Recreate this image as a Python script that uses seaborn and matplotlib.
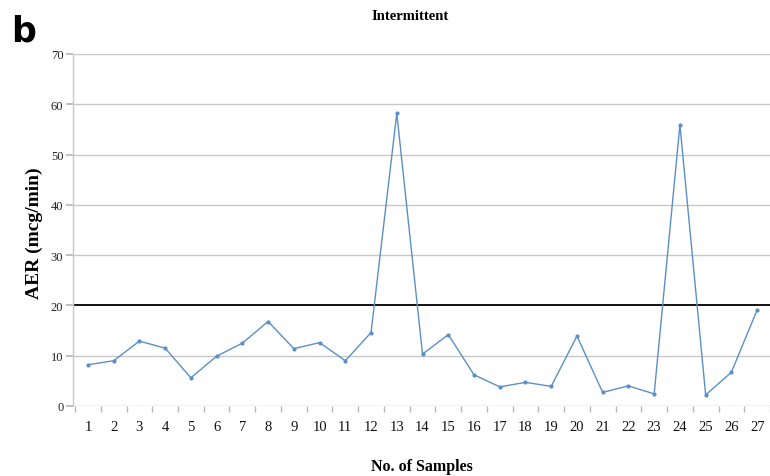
import matplotlib
matplotlib.use("Agg")
import matplotlib.pyplot as plt
import seaborn as sns
import numpy as np
import pandas as pd

# Albumin excretion rate per sample, intermittent group
samples = list(range(1, 28))
aer = [8.2, 9.0, 12.9, 11.5, 5.6, 9.9, 12.5, 16.8, 11.4, 12.6, 9.0, 14.6, 58.2,
       10.3, 14.2, 6.2, 3.8, 4.7, 3.9, 13.9, 2.7, 4.0, 2.4, 55.9, 2.2, 6.7, 19.1]
threshold = 20
y_ticks = [0, 10, 20, 30, 40, 50, 60, 70]

df = pd.DataFrame({"sample": samples, "aer": aer})

sns.set_theme(style="white")
plt.rcParams["font.family"] = ["Liberation Serif", "DejaVu Serif"]
plt.rcParams["text.color"] = "black"
plt.rcParams["axes.labelcolor"] = "black"

fig = plt.figure(figsize=(7.7, 4.77), dpi=100)
ax = fig.add_axes([0.0948, 0.1468, 0.9052, 0.7379])

for t in y_ticks:
    if t in (0, threshold):
        continue
    ax.axhline(t, color="#c8c8c8", lw=1.0, zorder=0)
ax.axhline(threshold, color="#111111", lw=1.4, zorder=1)
ax.axhline(0, color="#b8b8b8", lw=1.0, zorder=1)

sns.lineplot(data=df, x="sample", y="aer", ax=ax, color="#5b8fc7", lw=1.0,
             marker="o", markersize=3, markeredgewidth=0, zorder=3)

ax.set_xlim(0.42, 27.47)
ax.set_ylim(0, 70)
ax.set_xticks(samples)
ax.set_xticklabels([str(s) for s in samples], fontsize=10.5)
ax.set_xticks(np.arange(0.5, 28, 1), minor=True)
ax.set_yticks(y_ticks)
ax.set_yticklabels([str(t) for t in y_ticks], fontsize=9)
ax.tick_params(axis="x", which="major", length=0, pad=10, colors="#111111")
ax.tick_params(axis="x", which="minor", length=4, color="#b8b8b8", width=1,
               bottom=True)
ax.tick_params(axis="y", which="major", length=5, left=True, pad=2,
               colors="#222222")
ax.tick_params(axis="y", which="major", color="#b8b8b8")

for side in ("top", "right", "bottom"):
    ax.spines[side].set_visible(False)
ax.spines["left"].set_color("#c8c8c8")
ax.spines["left"].set_linewidth(1.0)

ax.set_xlabel("No. of Samples", fontsize=11.5, fontweight="bold", labelpad=18)
ax.set_ylabel("AER (mcg/min)", fontsize=14, fontweight="bold", labelpad=5)
ax.yaxis.set_label_coords(-0.043, 0.494)
fig.text(0.532, 0.966, "Intermittent", ha="center", va="center",
         fontsize=10.5, fontweight="bold")
fig.text(0.015, 0.935, "b", ha="left", va="center", fontsize=25,
         fontweight="bold", family="DejaVu Sans", color="black")

fig.savefig("out.png", dpi=100)
